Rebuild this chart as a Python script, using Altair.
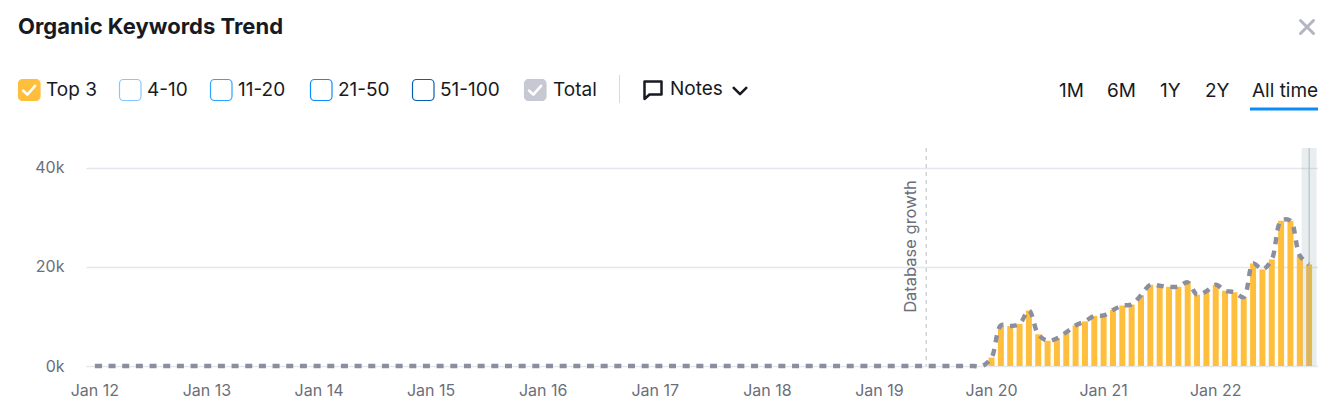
import altair as alt
import pandas as pd

# ---- chart data ----
years = ["12", "13", "14", "15", "16", "17", "18", "19", "20", "21", "22"]
month_names = ["Jan", "Feb", "Mar", "Apr", "May", "Jun", "Jul", "Aug", "Sep", "Oct", "Nov", "Dec"]
months = [f"{m} {y}" for y in years for m in month_names][:131]

zeros_2012_2019 = [0] * 96
top3_recent = [
    1700, 8200, 8050, 8500, 11200, 6400, 5100, 5600, 6800, 8200, 9000, 10100,
    10200, 11300, 12200, 12400, 14300, 16400, 16200, 16000, 16000, 16900, 14400, 15100,
    16400, 15200, 14900, 13900, 20700, 19500, 21500, 29300, 29300, 22300, 20500,
]
total_recent = list(top3_recent)

year_ticks = [f"Jan {y}" for y in years]
y_ticks = [0, 20000, 40000]
db_month = "Jun 19"
last_month = "Nov 22"

filters = ["Top 3", "4-10", "11-20", "21-50", "51-100", "Total"]
ranges = ["1M", "6M", "1Y", "2Y", "All time"]

df = pd.DataFrame({
    "month": months,
    "top3": zeros_2012_2019 + top3_recent,
    "total": zeros_2012_2019 + total_recent,
})

FONT = "Inter"
INK = "#171a22"
GREY = "#6c6e79"
OX, OY = 86, 148
Y_DOMAIN_MAX = 44000

x_enc = alt.X(
    "month:O", sort=months,
    scale=alt.Scale(domain=months, paddingInner=0.36, paddingOuter=0.63),
    axis=alt.Axis(values=year_ticks, labelAngle=0, ticks=False, domain=False, grid=False,
                  title=None, labelFont=FONT, labelFontSize=16, labelColor=GREY, labelPadding=16),
)
y_scale = alt.Scale(domain=[0, Y_DOMAIN_MAX], nice=False)

bars = alt.Chart(df).mark_bar(color="#ffbf3c").encode(
    x=x_enc,
    y=alt.Y("top3:Q", scale=y_scale, axis=alt.Axis(
        values=y_ticks, labelExpr="datum.value / 1000 + 'k'", ticks=False, domain=False,
        title=None, gridColor="#e6e6ee", gridWidth=1.6, labelFont=FONT, labelFontSize=16,
        labelColor=GREY, labelPadding=22)),
)
line = alt.Chart(df).mark_line(
    color="#8a8e9e", strokeWidth=4.4, strokeDash=[7, 6.67], interpolate="catmull-rom"
).encode(x=alt.X("month:O", sort=months), y=alt.Y("total:Q"))

db_df = pd.DataFrame({"month": [db_month], "label": ["Database growth"]})
db_rule = alt.Chart(db_df).mark_rule(color="#b8c0c4", strokeWidth=1, strokeDash=[4, 4]).encode(
    x=alt.X("month:O", sort=months))
db_text = alt.Chart(db_df).mark_text(
    angle=270, dy=-15, font=FONT, fontSize=16.5, color=GREY, baseline="middle", align="center"
).encode(x=alt.X("month:O", sort=months), y=alt.value(246.5 - OY), text="label:N")

last_df = pd.DataFrame({"month": [last_month], "top": [Y_DOMAIN_MAX]})
band = alt.Chart(last_df).mark_bar(color="#648c96", opacity=0.15, size=15).encode(
    x=alt.X("month:O", sort=months), y=alt.Y("top:Q"))
band_rule = alt.Chart(last_df).mark_rule(color="#aeb6b6", strokeWidth=1).encode(
    x=alt.X("month:O", sort=months))

one = alt.Data(values=[{}])


def text(s, x, y, size=19, color=INK, weight="normal", align="left"):
    return alt.Chart(one).mark_text(
        text=s, font=FONT, fontSize=size, color=color, fontWeight=weight,
        align=align, baseline="middle",
    ).encode(x=alt.value(x - OX), y=alt.value(y - OY))


def box(x, fill, stroke):
    return alt.Chart(one).mark_rect(
        cornerRadius=4, stroke=stroke, strokeWidth=1.2, color=fill or "#ffffff",
        **({} if fill else {"fillOpacity": 0})
    ).encode(x=alt.value(x - OX), x2=alt.value(x + 21.5 - OX),
             y=alt.value(79.5 - OY), y2=alt.value(100.5 - OY))


def icon(path, cx, cy, half, color, width):
    return alt.Chart(one).mark_point(
        shape=path, filled=False, stroke=color, strokeWidth=width, opacity=1,
        size=(2 * half) ** 2, strokeCap="round", strokeJoin="round",
    ).encode(x=alt.value(cx - OX), y=alt.value(cy - OY))


CHECK = "M-0.55 0.05 L-0.15 0.42 L0.55 -0.38"
chrome = [
    text("Organic Keywords Trend", 18, 27, size=22, weight="bold"),
    box(18.5, "#ffbf3c", "#ffbf3c"), icon(CHECK, 29, 90, 11, "#ffffff", 2.6),
    box(119.5, None, "#85c7ff"),
    box(210.5, None, "#2fa4ff"),
    box(310.5, None, "#0a8cff"),
    box(412.5, None, "#0560b5"),
    box(524.5, "#c6c8d3", "#c6c8d3"), icon(CHECK, 535, 90, 11, "#ffffff", 2.6),
]
for label, lx in zip(filters, [46, 147, 238, 338, 440, 553]):
    chrome.append(text(label, lx, 90))
chrome += [
    alt.Chart(one).mark_rule(color="#d8d9df", strokeWidth=1).encode(
        x=alt.value(619.5 - OX), y=alt.value(75 - OY), y2=alt.value(103 - OY)),
    icon("M-0.85 -0.8 L0.85 -0.8 L0.85 0.5 L-0.35 0.5 L-0.85 0.95 Z", 653, 89.5, 10, INK, 2.5),
    text("Notes", 670, 89),
    icon("M-0.9 -0.45 L0 0.45 L0.9 -0.45", 740, 91, 7, INK, 2.6),
    icon("M-1 -1 L1 1 M-1 1 L1 -1", 1307, 27, 6.5, "#b3b5c2", 3),
    alt.Chart(one).mark_rect(color="#0a8cff").encode(
        x=alt.value(1250 - OX), x2=alt.value(1318 - OX),
        y=alt.value(107.5 - OY), y2=alt.value(110.5 - OY)),
]
for label, lx in zip(ranges, [1059, 1107, 1160, 1205, 1252]):
    chrome.append(text(label, lx, 91))

chart = alt.layer(bars, line, db_rule, db_text, band, band_rule, *chrome).properties(
    width=1232,
    height=218,
    padding={"left": OX - 8, "top": OY - 8, "right": 0, "bottom": 44},
    autosize=alt.AutoSizeParams(type="none"),
    background="#ffffff",
).configure_view(stroke=None)

chart.save("out.html", embed_options={"renderer": "svg", "actions": False})
